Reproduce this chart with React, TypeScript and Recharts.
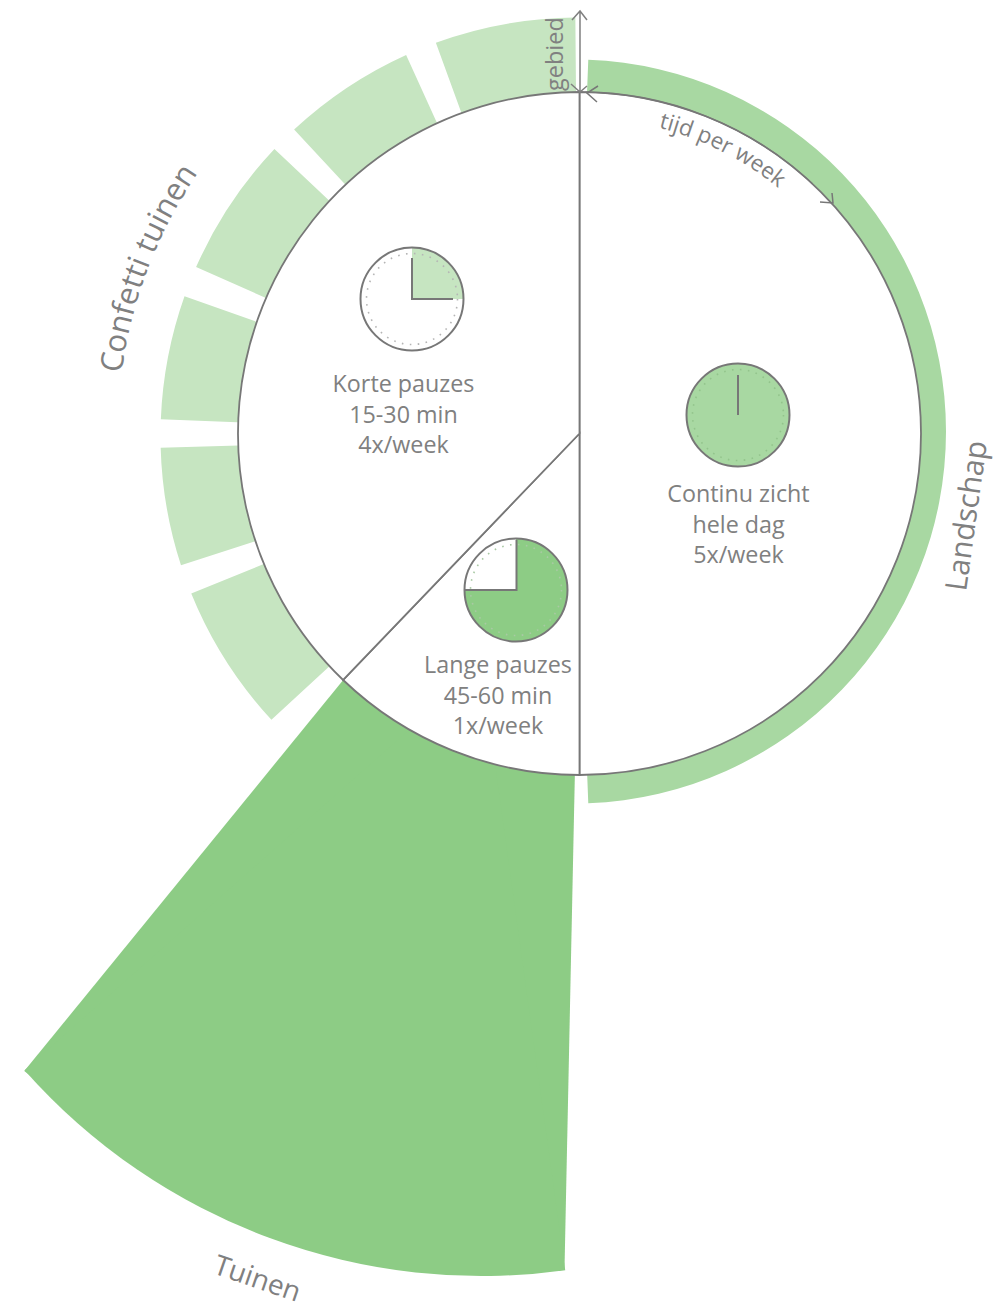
import React from "react";
import { PieChart, Pie, Cell } from "recharts";

// sector widths in degrees, running counter-clockwise from the top
const confettiGardens = [19.5, 18.5, 19.5, 17.2, 16.4, 20.6];
const confettiGaps = [0.5, 4.4, 3.8, 4.3, 3.9, 4.1];
const discShares = [180, 43.8, 136.2];
const discNames = ["Continu zicht", "Lange pauzes", "Korte pauzes"];
const landscapeShare = [175.6];
const gardenShare = [38];
const korteClock = [90, 270];
const langeClock = [270, 90];
const continuClock = [360];
const korteLines = ["Korte pauzes", "15-30 min", "4x/week"];
const langeLines = ["Lange pauzes", "45-60 min", "1x/week"];
const continuLines = ["Continu zicht", "hele dag", "5x/week"];

const LIGHT = "#c6e5c1";
const MID = "#a8d8a2";
const DARK = "#8dcc85";
const GRAY = "#808080";
const LINE = "#777777";
const FONT = "'Open Sans', sans-serif";

const CX = 579.5;
const CY = 433.5;
const R = 341.5;

const toRows = (vals: number[]) => vals.map((value, i) => ({ name: `s${i}`, value }));
const confettiRows = confettiGardens.flatMap((g, i) => [
  { name: `gap${i}`, value: confettiGaps[i], gap: true },
  { name: `tuin${i}`, value: g, gap: false },
]);

// phi is measured clockwise from the top of the circle
function arcPath(cx: number, cy: number, r: number, phi0: number, phi1: number) {
  const pt = (p: number) => {
    const a = (p * Math.PI) / 180;
    return `${(cx + r * Math.sin(a)).toFixed(1)} ${(cy - r * Math.cos(a)).toFixed(1)}`;
  };
  return `M ${pt(phi0)} A ${r} ${r} 0 0 ${phi1 > phi0 ? 1 : 0} ${pt(phi1)}`;
}

const textStyle = { fontFamily: FONT, fill: GRAY };

const TextBlock = ({ lines, x, y }: { lines: string[]; x: number; y: number }) => (
  <text x={x} y={y} textAnchor="middle" fontSize={23.3} style={textStyle}>
    {lines.map((l, i) => (
      <tspan key={l} x={x} dy={i === 0 ? 0 : 30.5}>
        {l}
      </tspan>
    ))}
  </text>
);

const clockPie = (vals: number[], cx: number, cy: number, fills: string[]) => (
  <Pie
    data={toRows(vals)}
    dataKey="value"
    cx={cx}
    cy={cy}
    innerRadius={0}
    outerRadius={51.5}
    startAngle={90}
    endAngle={-270}
    stroke="none"
    isAnimationActive={false}
  >
    {vals.map((_, i) => (
      <Cell key={i} fill={fills[i]} />
    ))}
  </Pie>
);

const ClockFace = ({ cx, cy, dots }: { cx: number; cy: number; dots: string }) => (
  <g>
    <circle cx={cx} cy={cy} r={45.5} fill="none" stroke={dots} strokeWidth={1.6} strokeDasharray="1.6 6.4" />
    <circle cx={cx} cy={cy} r={51.5} fill="none" stroke={LINE} strokeWidth={2} />
  </g>
);

export default function App() {
  return (
    <div style={{ position: "absolute", left: 0, top: 0, width: 999, height: 1313, background: "#fff" }}>
      <PieChart width={999} height={1313} margin={{ top: 0, right: 0, bottom: 0, left: 0 }}>
        {/* the Tuinen wedge: straight sides come from the first sector, the rounder rim from the second */}
        <Pie
          data={toRows(gardenShare)}
          dataKey="value"
          cx={583}
          cy={386}
          innerRadius={0}
          outerRadius={884}
          startAngle={-91.2}
          endAngle={-129.2}
          fill={DARK}
          stroke="none"
          isAnimationActive={false}
        />
        <Pie
          data={toRows(gardenShare)}
          dataKey="value"
          cx={481.4}
          cy={666}
          innerRadius={0}
          outerRadius={610}
          startAngle={-82.1}
          endAngle={-138.5}
          fill={DARK}
          stroke="none"
          isAnimationActive={false}
        />
        <Pie
          data={toRows(landscapeShare)}
          dataKey="value"
          cx={574}
          cy={431.5}
          innerRadius={200}
          outerRadius={372}
          startAngle={87.8}
          endAngle={-87.8}
          fill={MID}
          stroke="none"
          isAnimationActive={false}
        />
        <Pie
          data={confettiRows}
          dataKey="value"
          cx={579}
          cy={436}
          innerRadius={300}
          outerRadius={418.5}
          startAngle={90}
          endAngle={222.7}
          stroke="none"
          isAnimationActive={false}
        >
          {confettiRows.map((r) => (
            <Cell key={r.name} fill={r.gap ? "none" : LIGHT} />
          ))}
        </Pie>
        <Pie
          data={discShares.map((value, i) => ({ name: discNames[i], value }))}
          dataKey="value"
          cx={CX}
          cy={CY}
          innerRadius={0}
          outerRadius={R}
          startAngle={90}
          endAngle={-270}
          fill="#ffffff"
          stroke={LINE}
          strokeWidth={1.8}
          isAnimationActive={false}
        />
        {clockPie(korteClock, 412, 299, [LIGHT, "#ffffff"])}
        {clockPie(langeClock, 516, 590, [DARK, "#ffffff"])}
        {clockPie(continuClock, 738, 415, [MID])}
      </PieChart>

      {/* pies paint over anything inside the chart, so annotations sit in their own layer on top */}
      <svg width={999} height={1313} style={{ position: "absolute", left: 0, top: 0 }}>
        <ClockFace cx={412} cy={299} dots="#b5b5b5" />
        <ClockFace cx={516} cy={590} dots="#a9c9a4" />
        <ClockFace cx={738} cy={415} dots="#93c48c" />
        <path d="M412 258 V299 H453" fill="none" stroke={LINE} strokeWidth={2} />
        <path d="M516.5 540 V590 H465" fill="none" stroke={LINE} strokeWidth={2} />
        <path d="M738 375 V415" fill="none" stroke={LINE} strokeWidth={2} />

        {/* gebied axis */}
        <path d="M580 11 V93 M572 20 L580 11 L587 20 M571 84 L580 92 L587 86" fill="none" stroke={GRAY} strokeWidth={1.5} />
        {/* tijd per week arrow along the rim */}
        <path d={arcPath(CX, CY, R, 1, 43)} fill="none" stroke={LINE} strokeWidth={1.4} />
        <path d="M598 86 L587 93 L597 102 M820 202 L833 203 L832 193" fill="none" stroke={LINE} strokeWidth={1.5} />

        <defs>
          <path id="confettiArc" d={arcPath(CX, CY, 462, -82.5, -40)} />
          <path id="tijdArc" d={arcPath(CX, CY, 316, 14.5, 45)} />
        </defs>
        <text fontSize={31} style={textStyle}>
          <textPath href="#confettiArc">Confetti tuinen</textPath>
        </text>
        <text fontSize={22.5} style={textStyle}>
          <textPath href="#tijdArc">tijd per week</textPath>
        </text>
        <text transform="translate(966 592) rotate(-82)" fontSize={30} style={textStyle}>
          Landschap
        </text>
        <text transform="translate(212 1273) rotate(19)" fontSize={28} style={textStyle}>
          Tuinen
        </text>
        <text transform="translate(563 91) rotate(-90)" fontSize={23.5} style={textStyle}>
          gebied
        </text>

        <TextBlock lines={korteLines} x={403.5} y={392} />
        <TextBlock lines={langeLines} x={498} y={673} />
        <TextBlock lines={continuLines} x={738.5} y={502} />
      </svg>
    </div>
  );
}
